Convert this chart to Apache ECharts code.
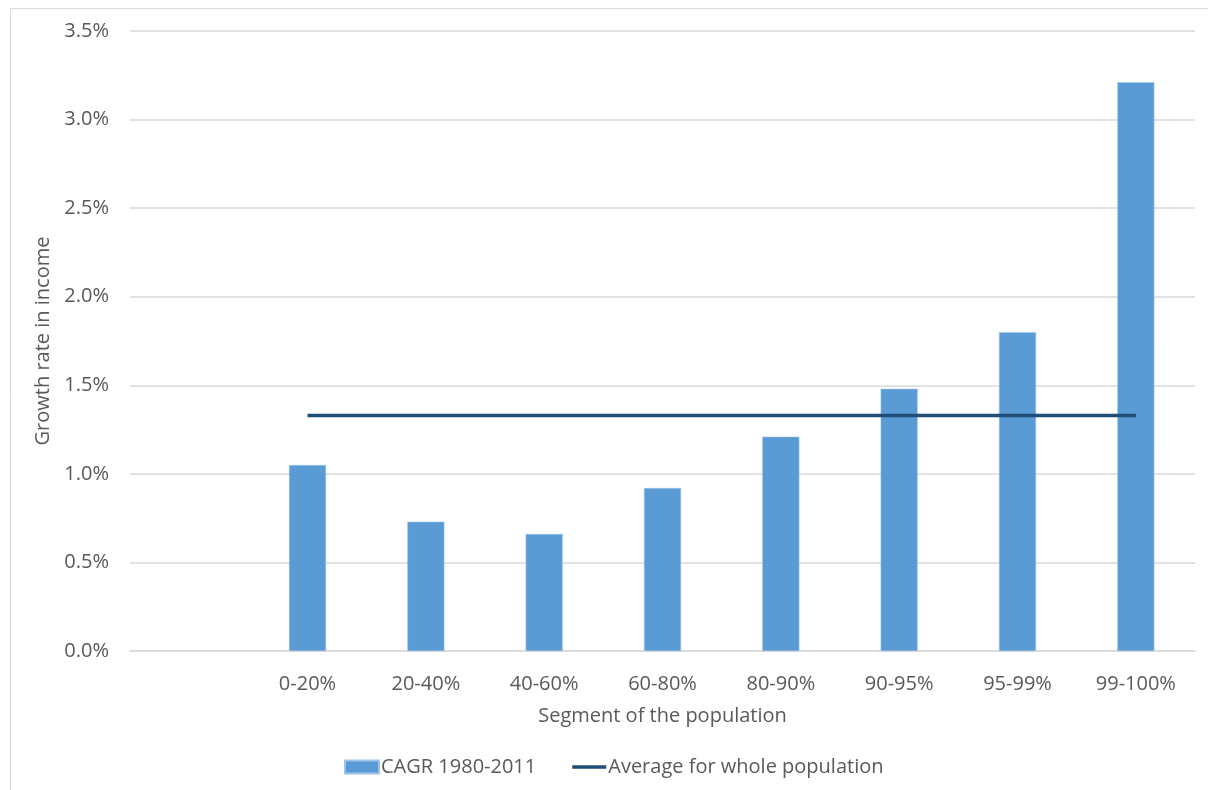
<!DOCTYPE html>
<html>
<head>
<meta charset="utf-8">
<script src="https://cdn.jsdelivr.net/npm/echarts@6/dist/echarts.min.js"></script>
<style>
html,body{margin:0;padding:0;background:#fff;}
#chart{width:1208px;height:790px;}
</style>
</head>
<body>
<div id="chart"></div>
<script>
const categories = ['', '0-20%', '20-40%', '40-60%', '60-80%', '80-90%', '90-95%', '95-99%', '99-100%'];
const cagrValues = [null, 1.05, 0.73, 0.66, 0.92, 1.21, 1.48, 1.80, 3.21];
const averageValues = [null, 1.33, 1.33, 1.33, 1.33, 1.33, 1.33, 1.33, 1.33];
const yTicks = [0, 0.5, 1.0, 1.5, 2.0, 2.5, 3.0, 3.5];

const FONT = '"Open Sans", sans-serif';
const TXT = '#595959';

const chart = echarts.init(document.getElementById('chart'), null, {renderer: 'canvas'});
chart.setOption({
  backgroundColor: '#ffffff',
  animation: false,
  textStyle: {fontFamily: FONT, color: TXT},
  graphic: [{
    type: 'rect',
    shape: {x: 10.5, y: 8.5, width: 1220, height: 800},
    style: {fill: 'none', stroke: '#d9d9d9', lineWidth: 1},
    silent: true
  }],
  grid: {left: 130, right: 13, top: 31, bottom: 139, containLabel: false},
  legend: {
    bottom: 8,
    left: 339,
    itemGap: 36,
    itemWidth: 34,
    itemHeight: 13,
    textStyle: {fontFamily: FONT, fontSize: 20, color: TXT, padding: [0,0,0,-3]},
    data: [
      {name: 'CAGR 1980-2011', icon: 'rect'},
      {name: 'Average for whole population', icon: 'path://M0 0 H34 V3.5 H0 Z'}
    ]
  },
  xAxis: {
    type: 'category',
    data: categories,
    axisTick: {show: false},
    axisLine: {lineStyle: {color: '#d9d9d9', width: 1.5}},
    axisLabel: {fontFamily: FONT, fontSize: 20, color: TXT, margin: 23},
    name: 'Segment of the population',
    nameLocation: 'middle',
    nameGap: 55,
    nameTextStyle: {fontFamily: FONT, fontSize: 20, color: TXT}
  },
  yAxis: {
    type: 'value',
    min: yTicks[0],
    max: yTicks[yTicks.length - 1],
    interval: 0.5,
    axisLine: {show: false},
    axisTick: {show: false},
    splitLine: {lineStyle: {color: '#d9d9d9', width: 1.5}},
    axisLabel: {fontFamily: FONT, fontSize: 20, color: TXT, margin: 21,
      formatter: v => v.toFixed(1) + '%'},
    name: 'Growth rate in income',
    nameLocation: 'middle',
    nameGap: 71,
    nameTextStyle: {fontFamily: FONT, fontSize: 20, color: TXT}
  },
  series: [
    {
      name: 'CAGR 1980-2011',
      type: 'bar',
      data: cagrValues,
      barWidth: 37,
      itemStyle: {color: '#5B9BD5', borderColor: '#9cc3e8', borderWidth: 0.5}
    },
    {
      name: 'Average for whole population',
      type: 'line',
      data: averageValues,
      symbol: 'none',
      lineStyle: {color: '#1F4E79', width: 3.5},
      itemStyle: {color: '#1F4E79'}
    }
  ]
});
</script>
</body>
</html>
